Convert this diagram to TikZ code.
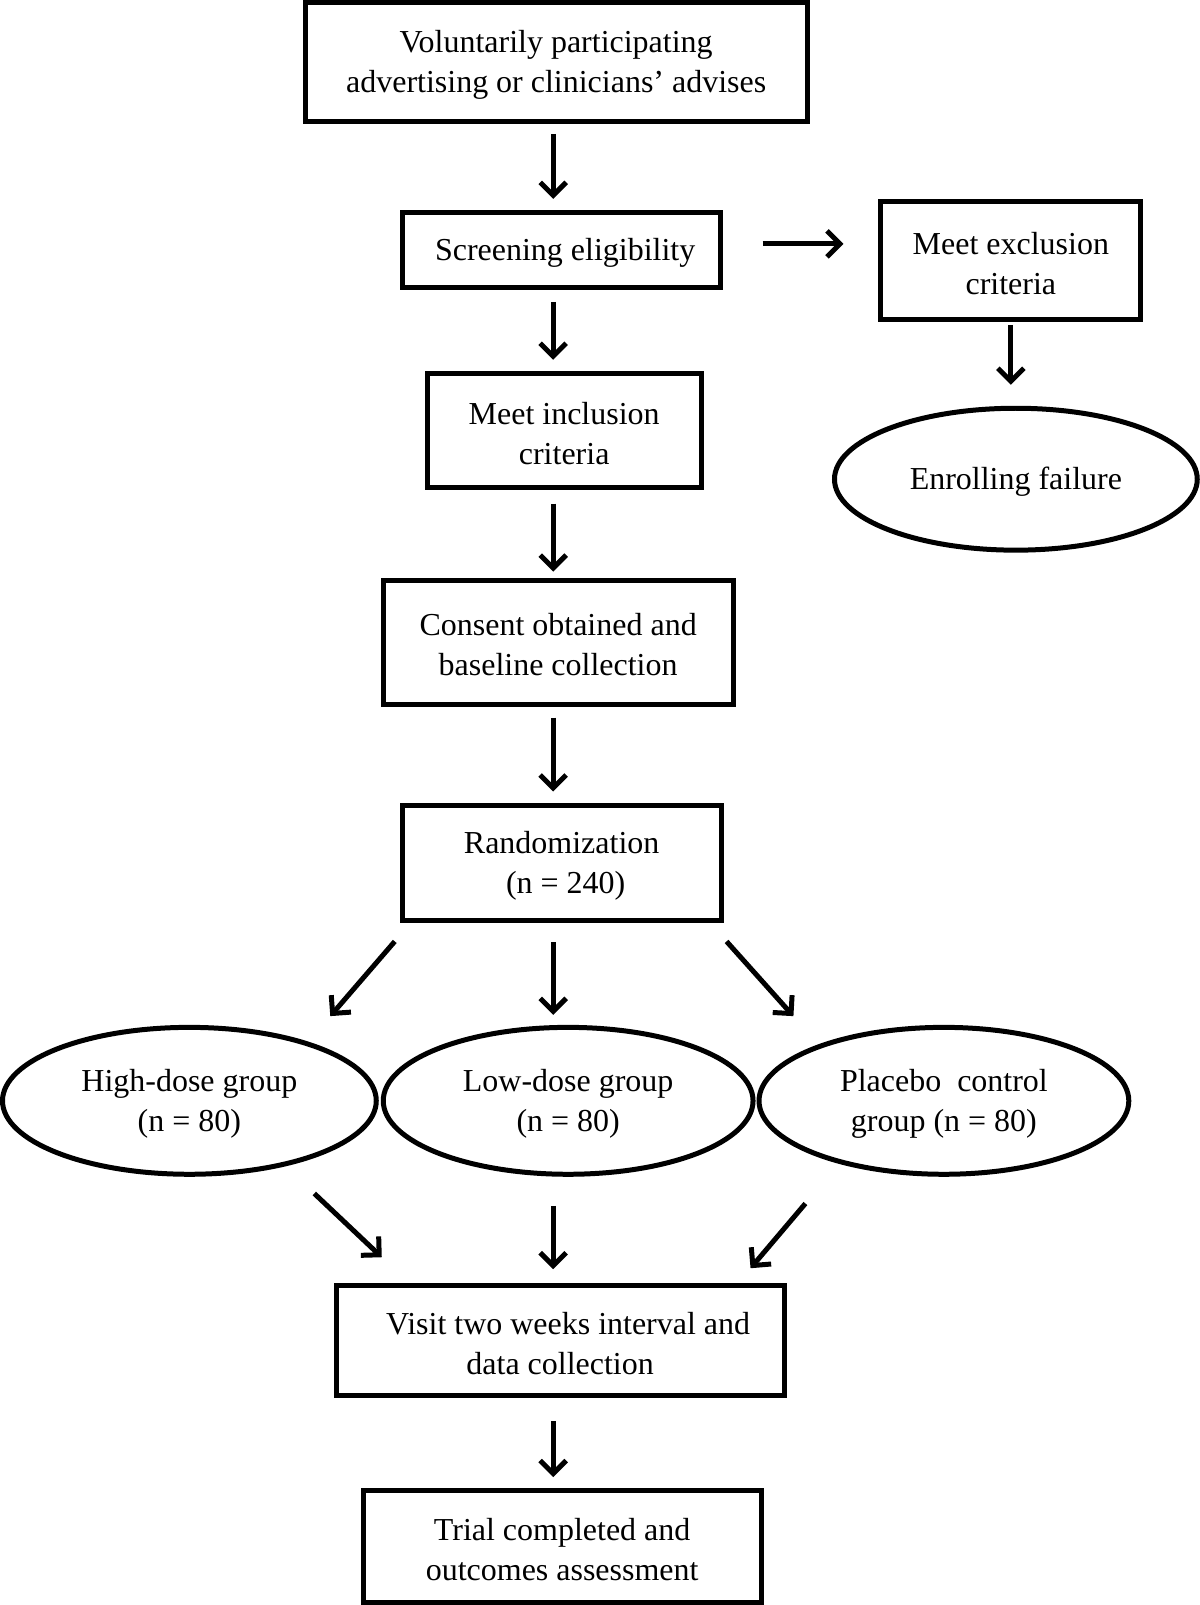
\documentclass[tikz,border=0pt]{standalone}
\usepackage{fontspec}
\setmainfont{Liberation Serif}
\usepackage{tikz}
\usetikzlibrary{arrows.meta, shapes.geometric}

\begin{document}
\begin{tikzpicture}[
  x=0.5pt, y=-0.5pt,
  font=\fontsize{16}{20}\selectfont,
  line cap=rect, line join=miter,
  box/.style={draw=black, line width=2.5pt, fill=white, align=center, inner sep=0pt, text height=34pt},
  oval/.style={draw=black, line width=2.5pt, fill=white, ellipse, align=center, inner sep=0pt, text height=34pt},
  oneline/.style={text height=14pt},
  arr/.style={line width=2.5pt, line cap=butt, -{Straight Barb[length=6.5pt, width=13pt, line width=2.5pt]}},
]
\path (0,0) rectangle (1200,1605);

% main column
\node[box, minimum width=251pt, minimum height=59.5pt] (top) at (556,61.5)
  {Voluntarily participating\\ advertising or clinicians' advises};
\node[box, oneline, minimum width=159pt, minimum height=37.5pt] (scr) at (561,249.5)
  {\ Screening eligibility};
\node[box, minimum width=137pt, minimum height=57pt] (incl) at (564,430)
  {Meet inclusion\\ criteria};
\node[box, minimum width=175pt, minimum height=62pt] (cons) at (558,642)
  {Consent obtained and\\ baseline collection};
\node[box, minimum width=159.5pt, minimum height=58pt] (rand) at (561.5,863)
  {Randomization\\ \ (n = 240)};

% right branch
\node[box, minimum width=130pt, minimum height=59pt] (excl) at (1011,260)
  {Meet exclusion\\ criteria};
\node[oval, oneline, minimum width=181.5pt, minimum height=71pt] (fail) at (1016,479)
  {Enrolling failure};

% groups
\node[oval, minimum width=187pt, minimum height=73.5pt] (high) at (189,1101)
  {High-dose group\\ (n = 80)};
\node[oval, minimum width=185pt, minimum height=73.5pt] (low) at (568,1101)
  {Low-dose group\\ (n = 80)};
\node[oval, minimum width=185pt, minimum height=73.5pt] (plac) at (944,1101)
  {Placebo\ \ control\\ group (n = 80)};

\node[box, minimum width=224pt, minimum height=55pt] (visit) at (560,1341)
  {\ \ Visit two weeks interval and\\ data collection};
\node[box, minimum width=199pt, minimum height=56pt] (trial) at (562,1547)
  {Trial completed and\\ outcomes assessment};

% arrows
\coordinate (ax) at (553,0);
\draw[arr, shorten <=5pt, shorten >=5.5pt] (top.south -| ax) -- (scr.north -| ax);
\draw[arr, shorten <=6pt, shorten >=5.5pt] (scr.south -| ax) -- (incl.north -| ax);
\draw[arr, shorten <=7pt, shorten >=3pt] (incl.south -| ax) -- (cons.north -| ax);
\draw[arr, shorten <=5.5pt, shorten >=5.5pt] (cons.south -| ax) -- (rand.north -| ax);
\draw[arr, shorten <=9.5pt, shorten >=5pt] (rand.south -| ax) -- (low.north -| ax);
\draw[arr, shorten <=14.5pt, shorten >=7pt] (low.south -| ax) -- (visit.north -| ax);
\draw[arr, shorten <=11.5pt, shorten >=5.5pt] (visit.south -| ax) -- (trial.north -| ax);

\draw[arr, shorten <=20pt, shorten >=17.5pt] ([yshift=3pt]scr.east) -- ([yshift=3pt]scr.east -| excl.west);
\draw[arr, shorten <=1.5pt, shorten >=10.5pt] (excl.south) -- (excl.south |- fail.north);

\draw[arr] ([shift={(-5,18)}]rand.south west) -- ([shift={(7,-31)}]high.north east);
\draw[arr] ([shift={(3,18)}]rand.south east) -- ([shift={(-18,-31)}]plac.north west);
\draw[arr] ([shift={(-9,39)}]high.south east) -- ([shift={(48,-26)}]visit.north west);
\draw[arr] ([shift={(-6,49)}]plac.south west) -- ([shift={(-36,-15)}]visit.north east);
\end{tikzpicture}
\end{document}
